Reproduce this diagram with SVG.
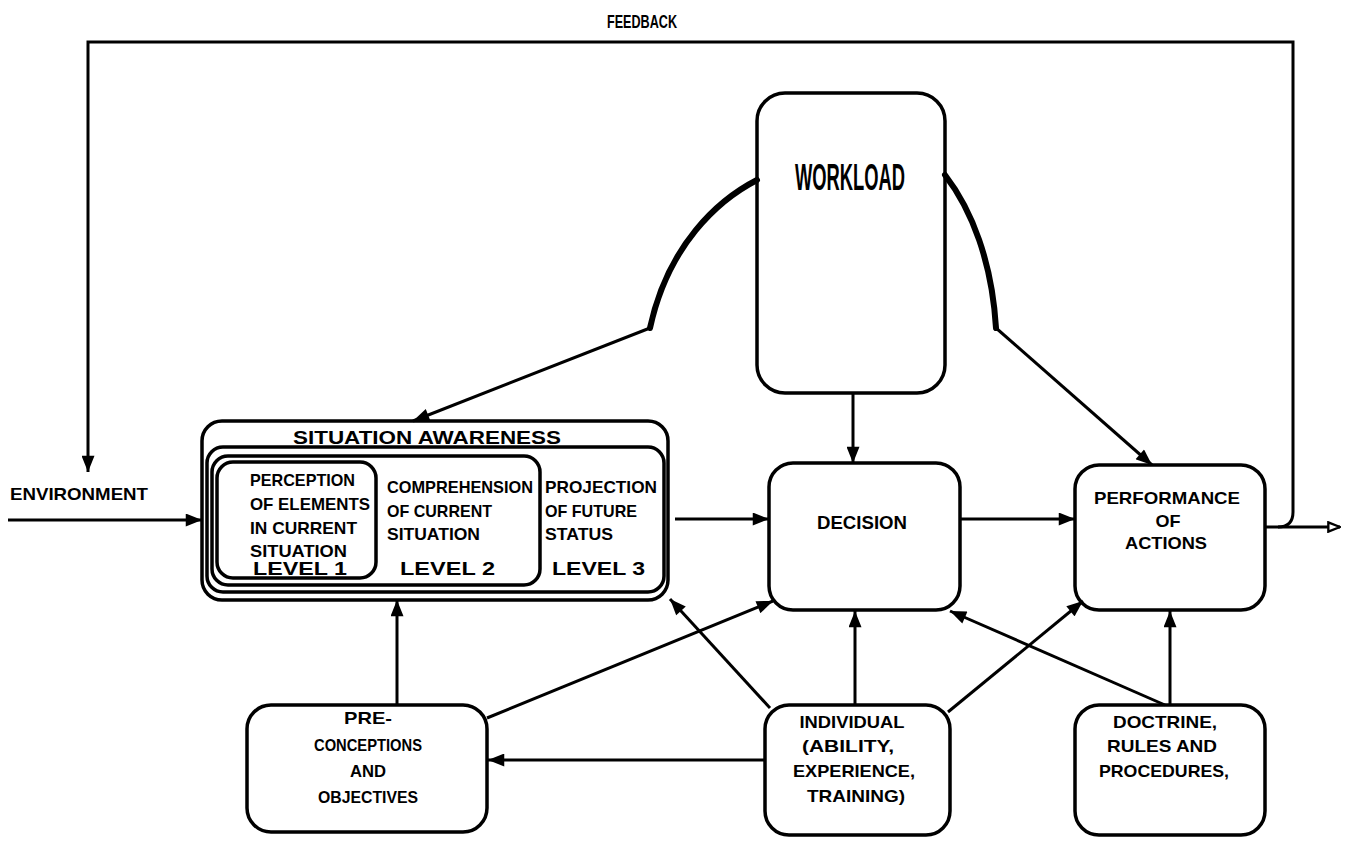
<svg xmlns="http://www.w3.org/2000/svg" width="1346" height="856" viewBox="0 0 1346 856">
<style>
.bx{fill:none;stroke:#000;stroke-width:3.5}
.ln{fill:none;stroke:#000;stroke-width:3}
.thk{fill:none;stroke:#000;stroke-width:6;stroke-linecap:round}
.t{font-family:"Liberation Sans",Arial,sans-serif;font-weight:bold;fill:#000}
.s16{font-size:16px}
.s17{font-size:17px}
.s18{font-size:18px}
.s19{font-size:19px}
.m{text-anchor:middle}
</style>
<defs>
<marker id="ah" viewBox="0 0 10 8" refX="10" refY="4" markerWidth="18" markerHeight="13" markerUnits="userSpaceOnUse" orient="auto">
<path d="M0,0 L10,4 L0,8 Z" fill="#000"/>
</marker>
<marker id="oh" viewBox="0 0 12 10" refX="11" refY="5" markerWidth="14" markerHeight="12" markerUnits="userSpaceOnUse" orient="auto">
<path d="M1,1 L11,5 L1,9 Z" fill="#fff" stroke="#000" stroke-width="2"/>
</marker>
</defs>
<rect width="1346" height="856" fill="#fff"/>

<g id="connectors">
<path class="ln" d="M1278,527 Q1293,527 1293,512 V42 H88 V472" marker-end="url(#ah)"/>
<path class="ln" d="M8,520 H202" marker-end="url(#ah)"/>
<path class="thk" d="M757,180 C718,200 668,245 650,328"/>
<path class="ln" d="M650,328 L413,421" marker-end="url(#ah)"/>
<path class="thk" d="M945,175 C972,210 992,262 996,328"/>
<path class="ln" d="M996,328 L1152,465" marker-end="url(#ah)"/>
<path class="ln" d="M853,393 V463" marker-end="url(#ah)"/>
<path class="ln" d="M675,519 H769" marker-end="url(#ah)"/>
<path class="ln" d="M960,519 H1075" marker-end="url(#ah)"/>
<path class="ln" d="M1265,527 H1340" marker-end="url(#oh)"/>
<path class="ln" d="M397,705 V600" marker-end="url(#ah)"/>
<path class="ln" d="M487,718 L773,601" marker-end="url(#ah)"/>
<path class="ln" d="M765,760 H488" marker-end="url(#ah)"/>
<path class="ln" d="M770,708 L670,599" marker-end="url(#ah)"/>
<path class="ln" d="M855,705 V611" marker-end="url(#ah)"/>
<path class="ln" d="M948,712 L1083,601" marker-end="url(#ah)"/>
<path class="ln" d="M1165,705 L950,611" marker-end="url(#ah)"/>
<path class="ln" d="M1170,705 V611" marker-end="url(#ah)"/>
</g>

<g id="feedback-label">
<text class="t s18 m" x="642" y="28" textLength="70" lengthAdjust="spacingAndGlyphs">FEEDBACK</text>
</g>

<g id="environment">
<text class="t s17" x="10" y="500" textLength="138" lengthAdjust="spacingAndGlyphs">ENVIRONMENT</text>
</g>

<g id="workload">
<rect class="bx" x="757" y="93" width="188" height="300" rx="28"/>
<text class="t" style="font-size:36px" x="795" y="190" textLength="110" lengthAdjust="spacingAndGlyphs">WORKLOAD</text>
</g>

<g id="situation-awareness">
<rect class="bx" x="202" y="421" width="466" height="179" rx="20"/>
<rect class="bx" x="207" y="447" width="457" height="145" rx="16"/>
<rect class="bx" x="212" y="456" width="328" height="129" rx="16"/>
<rect class="bx" x="217" y="462" width="159" height="116" rx="16"/>
<text class="t s19 m" x="427" y="444" textLength="268" lengthAdjust="spacingAndGlyphs">SITUATION AWARENESS</text>
<text class="t s17" x="250" y="486" textLength="105" lengthAdjust="spacingAndGlyphs">PERCEPTION</text>
<text class="t s17" x="250" y="510" textLength="120" lengthAdjust="spacingAndGlyphs">OF ELEMENTS</text>
<text class="t s17" x="250" y="534" textLength="107" lengthAdjust="spacingAndGlyphs">IN CURRENT</text>
<text class="t s17" x="250" y="557" textLength="97" lengthAdjust="spacingAndGlyphs">SITUATION</text>
<text class="t s18" x="253" y="575" textLength="94" lengthAdjust="spacingAndGlyphs">LEVEL 1</text>
<text class="t s17" x="387" y="493" textLength="146" lengthAdjust="spacingAndGlyphs">COMPREHENSION</text>
<text class="t s17" x="387" y="517" textLength="105" lengthAdjust="spacingAndGlyphs">OF CURRENT</text>
<text class="t s17" x="387" y="540" textLength="93" lengthAdjust="spacingAndGlyphs">SITUATION</text>
<text class="t s18" x="400" y="575" textLength="95" lengthAdjust="spacingAndGlyphs">LEVEL 2</text>
<text class="t s17" x="545" y="493" textLength="112" lengthAdjust="spacingAndGlyphs">PROJECTION</text>
<text class="t s17" x="545" y="517" textLength="92" lengthAdjust="spacingAndGlyphs">OF FUTURE</text>
<text class="t s17" x="545" y="540" textLength="68" lengthAdjust="spacingAndGlyphs">STATUS</text>
<text class="t s18" x="552" y="575" textLength="93" lengthAdjust="spacingAndGlyphs">LEVEL 3</text>
</g>

<g id="decision">
<rect class="bx" x="769" y="463" width="191" height="147" rx="24"/>
<text class="t s18 m" x="862" y="529" textLength="90" lengthAdjust="spacingAndGlyphs">DECISION</text>
</g>

<g id="performance">
<rect class="bx" x="1075" y="465" width="190" height="145" rx="24"/>
<text class="t s17 m" x="1167" y="504" textLength="146" lengthAdjust="spacingAndGlyphs">PERFORMANCE</text>
<text class="t s17 m" x="1168" y="527" textLength="25" lengthAdjust="spacingAndGlyphs">OF</text>
<text class="t s17 m" x="1166" y="549" textLength="82" lengthAdjust="spacingAndGlyphs">ACTIONS</text>
</g>

<g id="preconceptions">
<rect class="bx" x="247" y="705" width="240" height="127" rx="24"/>
<text class="t s17 m" x="368" y="724" textLength="48" lengthAdjust="spacingAndGlyphs">PRE-</text>
<text class="t s17 m" x="368" y="751" textLength="108" lengthAdjust="spacingAndGlyphs">CONCEPTIONS</text>
<text class="t s17 m" x="368" y="777" textLength="36" lengthAdjust="spacingAndGlyphs">AND</text>
<text class="t s17 m" x="368" y="803" textLength="100" lengthAdjust="spacingAndGlyphs">OBJECTIVES</text>
</g>

<g id="individual">
<rect class="bx" x="765" y="705" width="185" height="130" rx="24"/>
<text class="t s17 m" x="852" y="728" textLength="105" lengthAdjust="spacingAndGlyphs">INDIVIDUAL</text>
<text class="t s17 m" x="848" y="752" textLength="92" lengthAdjust="spacingAndGlyphs">(ABILITY,</text>
<text class="t s17 m" x="854" y="777" textLength="122" lengthAdjust="spacingAndGlyphs">EXPERIENCE,</text>
<text class="t s17 m" x="856" y="802" textLength="98" lengthAdjust="spacingAndGlyphs">TRAINING)</text>
</g>

<g id="doctrine">
<rect class="bx" x="1075" y="705" width="190" height="130" rx="24"/>
<text class="t s17 m" x="1165" y="728" textLength="104" lengthAdjust="spacingAndGlyphs">DOCTRINE,</text>
<text class="t s17 m" x="1162" y="752" textLength="110" lengthAdjust="spacingAndGlyphs">RULES AND</text>
<text class="t s17 m" x="1164" y="777" textLength="130" lengthAdjust="spacingAndGlyphs">PROCEDURES,</text>
</g>
</svg>
